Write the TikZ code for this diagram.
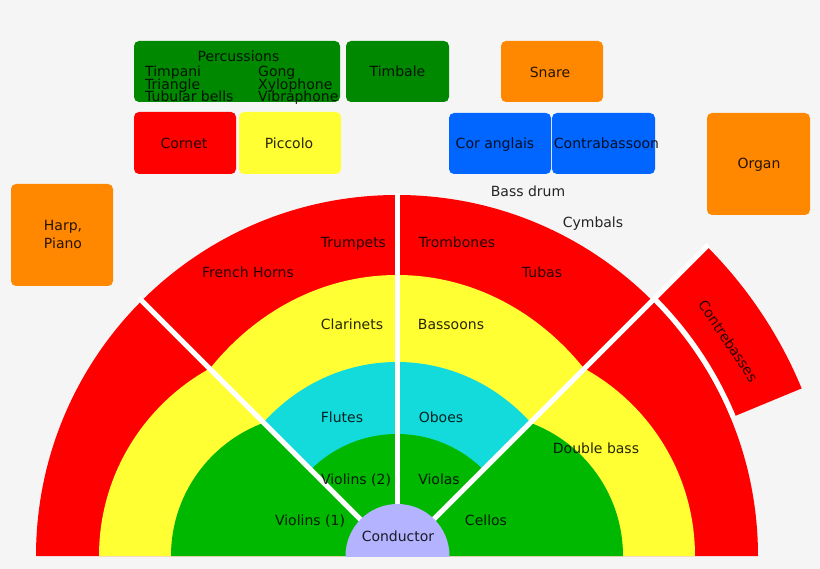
\documentclass[tikz,border=0pt]{standalone}
\usepackage{fontspec}
\setmainfont{DejaVu Sans}
\usetikzlibrary{calc}
\definecolor{bg}{RGB}{245,245,245}
\definecolor{cred}{RGB}{255,0,0}
\definecolor{cyel}{RGB}{255,255,51}
\definecolor{cgrn}{RGB}{0,184,0}
\definecolor{ccyan}{RGB}{19,219,219}
\definecolor{clav}{RGB}{179,179,255}
\definecolor{dgrn}{RGB}{0,136,0}
\definecolor{corg}{RGB}{255,136,0}
\definecolor{cblue}{RGB}{0,102,255}
\begin{document}
\begin{tikzpicture}[x=1pt,y=-1pt,
  lbl/.style={inner sep=0pt, text height=10.5pt, text depth=0pt, font=\fontsize{14pt}{16pt}\selectfont, text opacity=0.85},
  box/.style={rounded corners=5pt, draw=none, inner sep=0pt},
  sep/.style={white, line width=5pt}]
\fill[bg] (0,0) rectangle (820,569);
\useasboundingbox (0,0) rectangle (820,569);
\coordinate (C) at (397,556);
\begin{scope}
\clip (0,0) rectangle (820,556);
% left side section
\begin{scope}
\clip (C) -- (-20,556) -- (-20,139) -- cycle;
\fill[cred] (C) circle (361);
\fill[cyel] (313,556) circle (214);
\fill[cgrn] (313,556) circle (142);
\end{scope}
% right side section
\begin{scope}
\clip (C) -- (840,556) -- (840,113) -- cycle;
\fill[cred] (C) circle (361);
\fill[cyel] (481,556) circle (214);
\fill[cgrn] (481,556) circle (142);
\end{scope}
% top section
\begin{scope}
\clip (C) -- (-203,-44) -- (997,-44) -- cycle;
\fill[cred] (C) circle (361);
\fill[cyel] (C) ellipse [x radius=251, y radius=281];
\fill[ccyan] (C) ellipse [x radius=184, y radius=194];
\fill[cgrn] (C) circle (122);
\end{scope}
% contrebasses
\fill[cred]
  ($(C)+(-22.5:366)$) arc[start angle=-22.5, end angle=-45, radius=366]
  -- ($(C)+(-45:438)$) arc[start angle=-45, end angle=-22.5, radius=438] -- cycle;
\draw[sep] ($(C)+(-22.5:364)$) arc[start angle=-22.5, end angle=-45, radius=364];
% separators
\coordinate (vt) at (397,193);
\coordinate (dl) at ($(C)+(-135:365)$);
\coordinate (dr) at ($(C)+(-45:440)$);
\draw[sep] (C) -- (vt);
\draw[sep] (C) -- (dl);
\draw[sep] (C) -- (dr);
% conductor
\node[circle, fill=clav, minimum size=104pt, inner sep=0pt] (cond) at (397.5,556) {};
\end{scope}

% boxes
\node[box, fill=dgrn, minimum width=206pt, minimum height=61pt] (bperc) at (237,71.5) {};
\node[box, fill=dgrn, minimum width=103pt, minimum height=61pt] (btimb) at (397.5,71.5) {};
\node[box, fill=corg, minimum width=102pt, minimum height=61pt] (bsnare) at (552,71.5) {};
\node[box, fill=cred, minimum width=102pt, minimum height=62pt] (bcornet) at (185,143) {};
\node[box, fill=cyel, minimum width=102pt, minimum height=62pt] (bpicc) at (290,143) {};
\node[box, fill=cblue, minimum width=102pt, minimum height=61pt] (bcor) at (500,143.5) {};
\node[box, fill=cblue, minimum width=103pt, minimum height=61pt] (bcbsn) at (603.5,143.5) {};
\node[box, fill=corg, minimum width=103pt, minimum height=102pt] (borgan) at (758.5,164) {};
\node[box, fill=corg, minimum width=102pt, minimum height=102pt] (bharp) at (62,235) {};

% box labels
\node[lbl] (tperc) at (238.5,56) {Percussions};
\node[lbl, anchor=west] (t1) at (145,71.5) {Timpani};
\node[lbl, anchor=west] (t2) at (145,84) {Triangle};
\node[lbl, anchor=west] (t3) at (145,96.5) {Tubular bells};
\node[lbl, anchor=west] (t4) at (258,71.5) {Gong};
\node[lbl, anchor=west] (t5) at (258,84) {Xylophone};
\node[lbl, anchor=west] (t6) at (258,96.5) {Vibraphone};
\node[lbl] (ttimb) at (397.5,71.5) {Timbale};
\node[lbl] (tsnare) at (550,72) {Snare};
\node[lbl] (tcornet) at (184,143) {Cornet};
\node[lbl] (tpicc) at (289,143) {Piccolo};
\node[lbl] (tcor) at (495,143) {Cor anglais};
\node[lbl] (tcbsn) at (606.5,143) {Contrabassoon};
\node[lbl] (torgan) at (759,163) {Organ};
\node[lbl] (tharp) at (63,225) {Harp,};
\node[lbl] (tpiano) at (63,243) {Piano};
\node[lbl] (tbd) at (528,191) {Bass drum};
\node[lbl] (tcym) at (593,222) {Cymbals};

% section labels
\node[lbl] (ttrp) at (353.5,242) {Trumpets};
\node[lbl] (tfh) at (248,272) {French Horns};
\node[lbl] (ttrb) at (457,242) {Trombones};
\node[lbl] (ttub) at (542,272) {Tubas};
\node[lbl] (tcla) at (352,324) {Clarinets};
\node[lbl] (tbsn) at (451,324) {Bassoons};
\node[lbl] (tflu) at (342,417) {Flutes};
\node[lbl] (toboe) at (441,417) {Oboes};
\node[lbl] (tvl2) at (356,479) {Violins (2)};
\node[lbl] (tvla) at (439,479) {Violas};
\node[lbl] (tvl1) at (310,520) {Violins (1)};
\node[lbl] (tvc) at (486,520) {Cellos};
\node[lbl] (tcond) at (398,536) {Conductor};
\node[lbl] (tdb) at (596,448) {Double bass};
\node[lbl, rotate=-56.25] (tcb) at ($(C)+(-33:395)$) {Contrebasses};
\end{tikzpicture}
\end{document}
